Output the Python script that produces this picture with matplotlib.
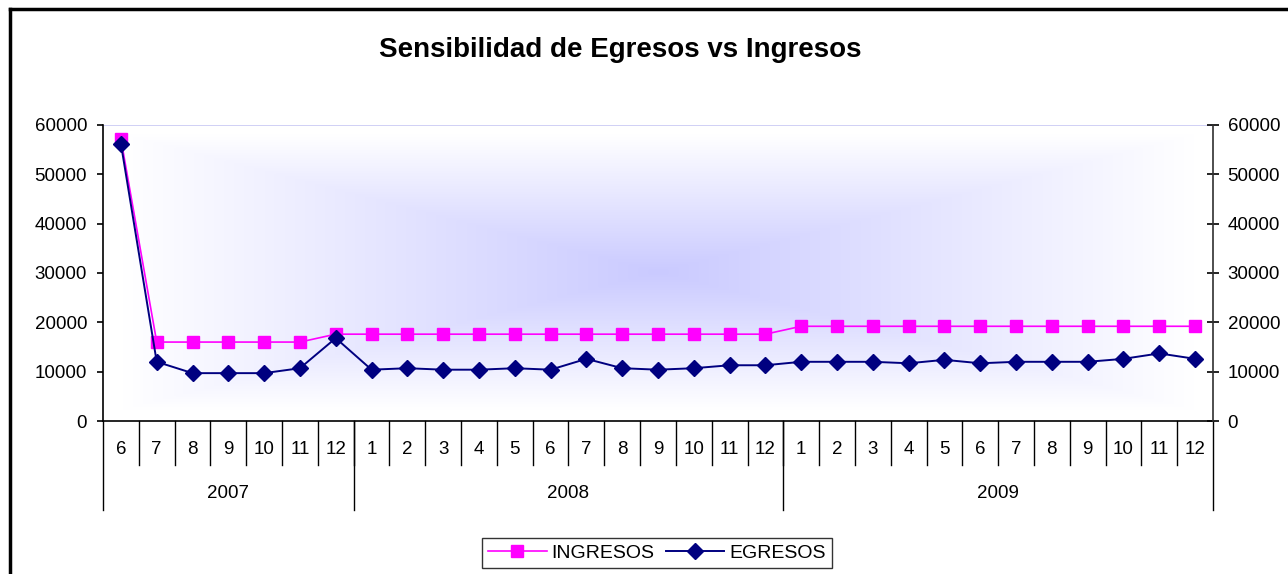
import numpy as np
import matplotlib.pyplot as plt
from matplotlib.lines import Line2D

plt.rcParams['font.family'] = ['Liberation Sans', 'DejaVu Sans']

# data
months = [6, 7, 8, 9, 10, 11, 12] + list(range(1, 13)) + list(range(1, 13))
years = ['2007', '2008', '2009']
months_per_year = [7, 12, 12]

ingresos = [57200, 16000, 16000, 16000, 16000, 16000, 17600,
            17600, 17600, 17600, 17600, 17600, 17600, 17600, 17600, 17600, 17600, 17600, 17600,
            19200, 19200, 19200, 19200, 19200, 19200, 19200, 19200, 19200, 19200, 19200, 19200]
egresos = [56200, 12000, 9700, 9700, 9700, 10700, 16800,
           10400, 10700, 10400, 10400, 10700, 10400, 12600, 10700, 10400, 10700, 11300, 11300,
           12000, 12000, 12000, 11700, 12400, 11700, 12000, 12000, 12000, 12600, 13700, 12600]

W, H = 1288, 574
fig = plt.figure(figsize=(W / 100, H / 100), dpi=100)
ax = fig.add_axes([103 / W, 1 - 421 / H, 1110 / W, 296 / H])

n = len(months)
x = np.arange(n)

# rectangular "from centre" gradient fill of the plot area
gx, gy = np.meshgrid(np.linspace(-1, 1, 600), np.linspace(-1, 1, 300))
r = np.maximum(np.abs(gx), np.abs(gy))
shade = 1 - r
rgb = np.ones((300, 600, 3))
base = np.array([202, 202, 255]) / 255
for c in range(3):
    rgb[:, :, c] = 1 - shade * (1 - base[c])
# region in pixels: x 122..1195, y 135..410 -> data coords
x0 = (122 - 103) / 1110 * n - 0.5
x1 = (1195 - 103) / 1110 * n - 0.5
y0 = (421 - 410) / 296 * 60000
y1 = (421 - 135) / 296 * 60000
ax.imshow(rgb, extent=[x0, x1, y0, y1], aspect='auto', zorder=0)

ax.axhline(60000, color='#c8c8f4', lw=1.2, zorder=1)

ax.plot(x, ingresos, color='#ff00ff', lw=1.2, marker='s', ms=9,
        mec='#ff00ff', mfc='#ff00ff', zorder=3, label='INGRESOS')
ax.plot(x, egresos, color='#000080', lw=1.4, marker='D', ms=8,
        mec='#000080', mfc='#000080', zorder=4, label='EGRESOS')

ax.set_xlim(-0.5, n - 0.5)
ax.set_ylim(0, 60000)
ax.set_yticks(range(0, 60001, 10000))
ax.tick_params(axis='y', labelsize=13.5, length=4.5, width=1.2, direction='out', pad=7)
ax.set_xticks([])

ax.spines['top'].set_visible(False)
ax.spines['right'].set_visible(False)
ax.spines['left'].set_linewidth(1.2)
ax.spines['bottom'].set_linewidth(1.2)

ax2 = ax.twinx()
ax2.set_ylim(0, 60000)
ax2.set_yticks(range(0, 60001, 10000))
ax2.tick_params(axis='y', labelsize=13.5, length=9, width=1.2, direction='inout', pad=6)
for s in ['top', 'left', 'bottom']:
    ax2.spines[s].set_visible(False)
ax2.spines['right'].set_linewidth(1.2)
ax2.spines['right'].set_color('#303030')

# category axis: months and years
trans = ax.get_xaxis_transform()
h = 296
for i in range(1, n):
    ax.plot([i - 0.5, i - 0.5], [0, -44 / h], color='black', lw=1, transform=trans, clip_on=False)
for i, m in enumerate(months):
    ax.text(i, -29 / h, str(m), transform=trans, ha='center', va='center', fontsize=13.5)

bounds = np.concatenate([[0], np.cumsum(months_per_year)]) - 0.5
for b in bounds:
    ax.plot([b, b], [0, -89 / h], color='black', lw=1, transform=trans, clip_on=False)
for k, yr in enumerate(years):
    ax.text((bounds[k] + bounds[k + 1]) / 2, -72 / h, yr, transform=trans,
            ha='center', va='center', fontsize=13.5)

fig.text(620 / W, 1 - 50 / H, 'Sensibilidad de Egresos vs Ingresos',
         ha='center', va='center', fontsize=20, fontweight='bold')

handles = [Line2D([], [], color='#ff00ff', lw=1.2, marker='s', ms=9, mfc='#ff00ff', mec='#ff00ff'),
           Line2D([], [], color='#000080', lw=1.4, marker='D', ms=8, mfc='#000080', mec='#000080')]
leg = fig.legend(handles, ['INGRESOS', 'EGRESOS'], loc='center', ncol=2,
                 bbox_to_anchor=(657 / W, 1 - 553 / H), fontsize=14,
                 frameon=True, fancybox=False, handlelength=3.0, handletextpad=0.25,
                 columnspacing=0.6, borderpad=0.3)
leg.get_frame().set_edgecolor('black')
leg.get_frame().set_linewidth(1)

# outer chart border (cropped on right/bottom)
fig.add_artist(Line2D([10 / W, 10 / W], [0, 1 - 9 / H], color='black', lw=2.5))
fig.add_artist(Line2D([10 / W, 1], [1 - 9 / H, 1 - 9 / H], color='black', lw=2.5))

fig.savefig('out.png', dpi=100)
